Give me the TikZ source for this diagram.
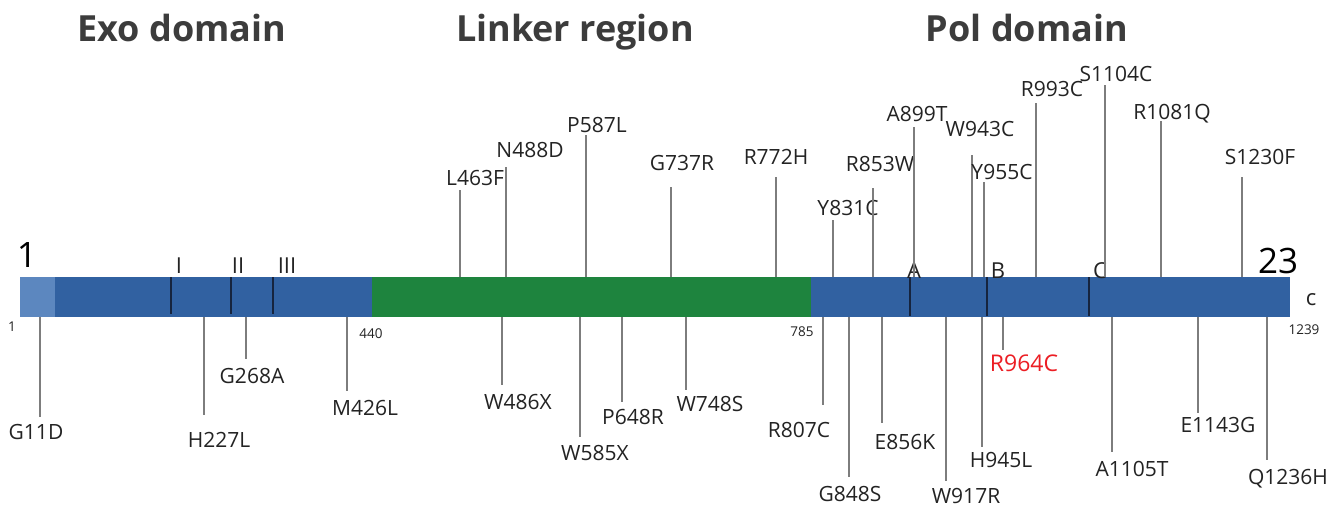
\documentclass[tikz,border=0pt]{standalone}
\usepackage{fontspec}
\setmainfont{Open Sans}
\definecolor{barblue}{RGB}{49,97,161}
\definecolor{barlight}{RGB}{92,135,191}
\definecolor{bargreen}{RGB}{30,132,62}
\definecolor{marknavy}{RGB}{22,36,62}
\definecolor{stemgray}{RGB}{125,125,125}
\definecolor{labtext}{RGB}{35,35,35}
\definecolor{titletext}{RGB}{60,60,60}
\definecolor{hotred}{RGB}{236,30,36}
\tikzset{
  mut/.style={font=\fontsize{21}{21}\selectfont, text=labtext, inner sep=0pt, text height=15pt, text depth=0pt},
  redmut/.style={mut, font=\fontsize{23}{23}\selectfont, text=hotred, text height=16.5pt},
  stem/.style={draw=stemgray, line width=1.3pt},
  marker/.style={draw=marknavy, line width=2.2pt},
  title/.style={font=\fontsize{36}{36}\selectfont\bfseries, text=titletext, inner sep=0pt, anchor=base},
  motif/.style={font=\fontsize{22}{22}\selectfont, text=labtext, inner sep=0pt, text height=16pt, text depth=0pt},
  endnum/.style={font=\fontsize{35}{35}\selectfont, text=black, inner sep=0pt, text height=25pt, text depth=0pt},
  posnum/.style={font=\fontsize{13.5}{13.5}\selectfont, text=labtext, inner sep=0pt, text height=10pt, text depth=0pt}
}
\newcommand{\mutup}[6]{%
  \coordinate (#1-b) at (#2,277);
  \coordinate (#1-e) at (#2,#3);
  \node[mut] (#1) at (#4,#5) {#6};
  \draw[stem] (#1-b) -- (#1-e);
}
\newcommand{\mutdn}[6]{%
  \coordinate (#1-b) at (#2,317);
  \coordinate (#1-e) at (#2,#3);
  \node[mut] (#1) at (#4,#5) {#6};
  \draw[stem] (#1-b) -- (#1-e);
}
\begin{document}
\begin{tikzpicture}[x=1pt,y=-1pt]
\useasboundingbox (0,0) rectangle (1339,508);
\fill[white] (0,0) rectangle (1339,508);

% titles
\node[title] (exo) at (182,42) {Exo domain};
\node[title] (linker) at (575,42) {Linker region};
\node[title] (pol) at (1027,42) {Pol domain};

% bar
\fill[barlight] (20,277) rectangle (56,317);
\fill[barblue] (55,277) rectangle (372,317);
\fill[bargreen] (372,277) rectangle (811,317);
\fill[barblue] (811,277) rectangle (1290,317);

% motif markers
\coordinate (mI-t) at (171,277);   \coordinate (mI-b) at (171,314);
\coordinate (mII-t) at (231,277);  \coordinate (mII-b) at (231,314);
\coordinate (mIII-t) at (273,277); \coordinate (mIII-b) at (273,314);
\coordinate (mA-t) at (910,277);   \coordinate (mA-b) at (910,316);
\coordinate (mB-t) at (987,277);   \coordinate (mB-b) at (987,316);
\coordinate (mC-t) at (1089,277);  \coordinate (mC-b) at (1089,316);
\foreach \m in {mI,mII,mIII,mA,mB,mC} \draw[marker] (\m-t) -- (\m-b);
\node[motif] (lI) at (179,265) {I};
\node[motif] (lII) at (238,265) {II};
\node[motif] (lIII) at (287,265) {III};
\node[motif] (lA) at (914,270) {A};
\node[motif] (lB) at (998,270) {B};
\node[motif] (lC) at (1100,270) {C};

% ends and positions
\node[endnum] (n1) at (27,255) {1};
\node[endnum] (n23) at (1278,261) {23};
\node[font=\fontsize{22}{22}\selectfont, text=labtext, inner sep=0pt] (cterm) at (1311,300) {c};
\node[posnum] (p1) at (12,326) {1};
\node[posnum] (p440) at (371,333) {440};
\node[posnum] (p785) at (802,331) {785};
\node[posnum] (p1239) at (1304,329) {1239};

% mutations above the bar
\mutup{L463F}{460}{190}{475}{178}{L463F}
\mutup{N488D}{506}{167}{530}{150}{N488D}
\mutup{P587L}{586}{135}{597}{125}{P587L}
\mutup{G737R}{671}{187}{682}{163}{G737R}
\mutup{R772H}{776}{177}{776}{157}{R772H}
\mutup{Y831C}{833}{220}{848}{208}{Y831C}
\mutup{R853W}{873}{188}{880}{164}{R853W}
\mutup{A899T}{914}{127}{917}{114}{A899T}
\mutup{W943C}{972}{155}{980}{129}{W943C}
\mutup{Y955C}{984}{182}{1002}{172}{Y955C}
\mutup{R993C}{1036}{103}{1052}{89}{R993C}
\mutup{S1104C}{1105}{85}{1116}{74}{S1104C}
\mutup{R1081Q}{1161}{121}{1172}{112}{R1081Q}
\mutup{S1230F}{1242}{177}{1260}{157}{S1230F}

% mutations below the bar
\mutdn{G11D}{40}{417}{36}{432}{G11D}
\mutdn{H227L}{204}{415}{219}{440}{H227L}
\mutdn{G268A}{246}{359}{252}{376}{G268A}
\mutdn{M426L}{347}{391}{365}{408}{M426L}
\mutdn{W486X}{502}{385}{518}{402}{W486X}
\mutdn{W585X}{580}{437}{595}{453}{W585X}
\mutdn{P648R}{622}{402}{633}{417}{P648R}
\mutdn{W748S}{686}{390}{710}{404}{W748S}
\mutdn{R807C}{823}{405}{799}{430}{R807C}
\mutdn{G848S}{849}{477}{850}{494}{G848S}
\mutdn{E856K}{882}{423}{905}{442}{E856K}
\mutdn{W917R}{946}{481}{966}{496}{W917R}
\mutdn{H945L}{982}{447}{1001}{460}{H945L}
\mutdn{A1105T}{1112}{452}{1132}{469}{A1105T}
\mutdn{E1143G}{1198}{413}{1218}{425}{E1143G}
\mutdn{Q1236H}{1267}{460}{1288}{477}{Q1236H}

% highlighted mutation
\coordinate (R964C-b) at (1003,317);
\coordinate (R964C-e) at (1003,350);
\node[redmut] (R964C) at (1024,363) {R964C};
\draw[stem] (R964C-b) -- (R964C-e);
\end{tikzpicture}
\end{document}
